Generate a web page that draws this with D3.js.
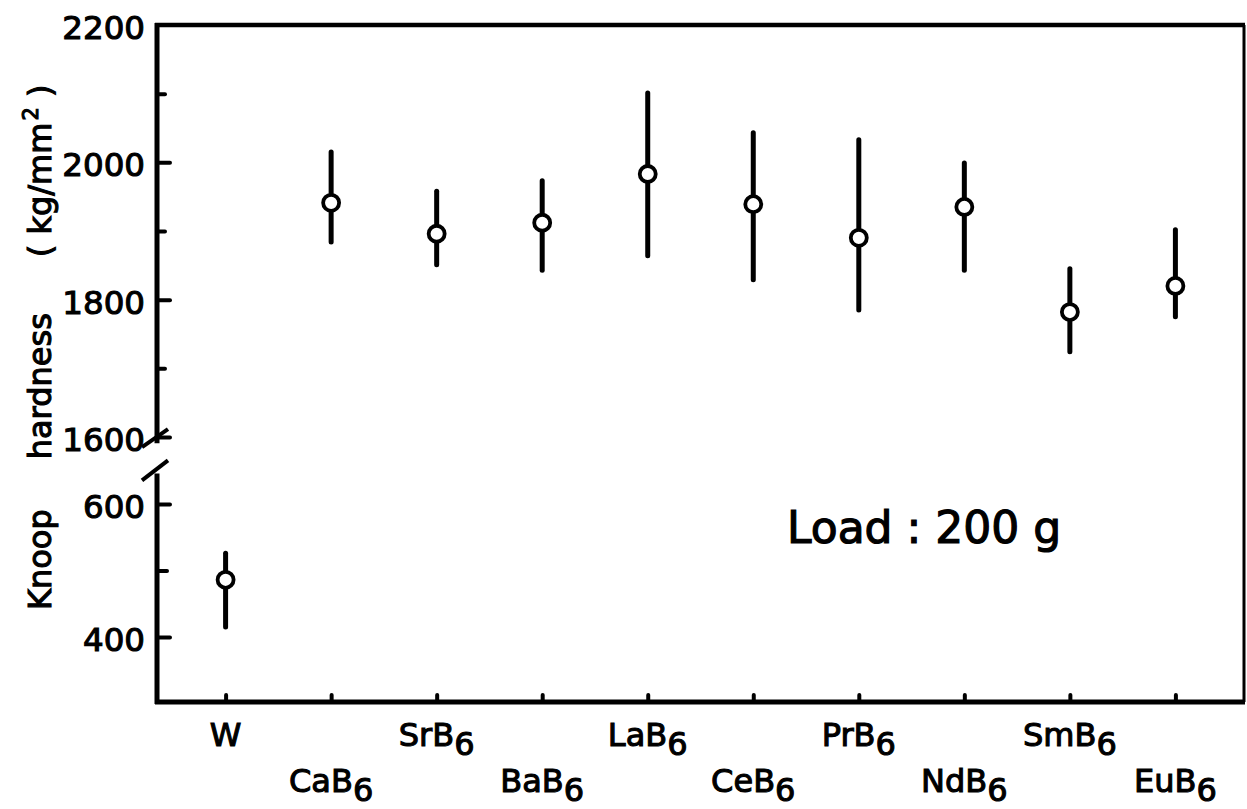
<!DOCTYPE html>
<html>
<head>
<meta charset="utf-8">
<script src="https://cdn.jsdelivr.net/npm/d3@7"></script>
<style>
  html, body { margin: 0; padding: 0; background: #fff; }
  svg { display: block; }
  text { font-family: "DejaVu Sans", sans-serif; fill: #000; }
</style>
</head>
<body>
<svg id="chart" width="1247" height="809"></svg>
<script>
// ---- data ----
const categories = ["W", "CaB6", "SrB6", "BaB6", "LaB6", "CeB6", "PrB6", "NdB6", "SmB6", "EuB6"];
const hardness   = [486, 1941, 1896, 1912, 1983, 1939, 1890, 1935, 1782, 1820];
const errHigh    = [526, 2015, 1958, 1973, 2101, 2043, 2033, 1999, 1845, 1902];
const errLow     = [415, 1884, 1851, 1843, 1864, 1829, 1785, 1843, 1724, 1775];
const upperMajorTicks = [1600, 1800, 2000, 2200];
const upperMinorTicks = [1700, 1900, 2100];
const lowerMajorTicks = [400, 600];
const lowerMinorTicks = [500];
const titleParts = ["Knoop", "hardness", "( kg/mm", "2", " )"];
const loadLabel = "Load : 200 g";

// ---- layout ----
const svg = d3.select("#chart");
const pL = 157, pR = 1244, pT = 25, pB = 702;
const textStroke = 1.1;

const x = d3.scalePoint().domain(categories).range([pL, pR]).padding(0.65);
const yUpper = d3.scaleLinear().domain([1600, 2200]).range([437, pT]);
const yLower = d3.scaleLinear().domain([400, 600]).range([637, 504]);
const isLower = v => v < 1000;
const yOf = v => isLower(v) ? yLower(v) : yUpper(v);

// ---- frame ----
const frame = svg.append("g").attr("stroke", "#000").attr("fill", "none");
frame.append("line").attr("x1", pL - 2).attr("x2", pR + 1).attr("y1", pT).attr("y2", pT).attr("stroke-width", 4.5);
frame.append("line").attr("x1", pR).attr("x2", pR).attr("y1", pT).attr("y2", pB).attr("stroke-width", 3);
frame.append("line").attr("x1", pL - 2).attr("x2", pR + 1).attr("y1", pB).attr("y2", pB).attr("stroke-width", 5);
frame.append("line").attr("x1", pL).attr("x2", pL).attr("y1", pT - 2).attr("y2", yUpper(1591)).attr("stroke-width", 5);
frame.append("line").attr("x1", pL).attr("x2", pL).attr("y1", yLower(646)).attr("y2", pB + 2).attr("stroke-width", 5);
const brk = [[yUpper(1591) + 4, yUpper(1591) - 14], [yLower(646) + 7, yLower(646) - 13]];
brk.forEach(([y1, y2]) => {
  frame.append("line").attr("x1", pL - 15).attr("x2", pL + 11).attr("y1", y1).attr("y2", y2).attr("stroke-width", 4);
});

// ---- y axes ----
function styleAxis(g) {
  g.select(".domain").remove();
  g.selectAll(".tick line").attr("stroke", "#000").attr("stroke-width", 4).attr("stroke-linecap", "round");
  g.selectAll(".tick text").attr("font-size", 32.5).attr("font-family", "DejaVu Sans")
    .attr("stroke", "#000").attr("stroke-width", textStroke).attr("dy", "0.42em");
}
const axU = svg.append("g").attr("transform", `translate(${pL},0)`)
  .call(d3.axisLeft(yUpper).tickValues(upperMajorTicks).tickSize(-13).tickPadding(12).tickFormat(d3.format("d")))
  .call(styleAxis);
axU.selectAll(".tick").filter(d => d === 2200).select("line").remove();
svg.append("g").attr("transform", `translate(${pL},0)`)
  .call(d3.axisLeft(yUpper).tickValues(upperMinorTicks).tickSize(-8).tickFormat(""))
  .call(styleAxis);
svg.append("g").attr("transform", `translate(${pL},0)`)
  .call(d3.axisLeft(yLower).tickValues(lowerMajorTicks).tickSize(-13).tickPadding(12).tickFormat(d3.format("d")))
  .call(styleAxis);
svg.append("g").attr("transform", `translate(${pL},0)`)
  .call(d3.axisLeft(yLower).tickValues(lowerMinorTicks).tickSize(-10).tickFormat(""))
  .call(styleAxis);

// ---- x axis ----
const axX = svg.append("g").attr("transform", `translate(0,${pB})`)
  .call(d3.axisBottom(x).tickSize(-7).tickFormat(""));
axX.select(".domain").remove();
axX.selectAll(".tick line").attr("stroke", "#000").attr("stroke-width", 4).attr("stroke-linecap", "round");

const labels = svg.append("g");
categories.forEach((c, i) => {
  const base = c.replace(/6$/, "");
  const sub = c.endsWith("6") ? "6" : "";
  const row = i % 2 === 0 ? 746 : 792;
  const t = labels.append("text")
    .attr("x", x(c)).attr("y", row)
    .attr("text-anchor", "middle")
    .attr("font-size", 32)
    .attr("stroke", "#000").attr("stroke-width", textStroke);
  t.append("tspan").text(base);
  if (sub) t.append("tspan").attr("dy", 9).attr("font-size", 32).text(sub);
});

// ---- error bars + points ----
const marks = svg.append("g");
categories.forEach((c, i) => {
  marks.append("line")
    .attr("x1", x(c)).attr("x2", x(c))
    .attr("y1", yOf(errHigh[i])).attr("y2", yOf(errLow[i]))
    .attr("stroke", "#000").attr("stroke-width", 5).attr("stroke-linecap", "round");
});
marks.selectAll("circle").data(categories).join("circle")
  .attr("cx", d => x(d))
  .attr("cy", (d, i) => yOf(hardness[i]))
  .attr("r", 8)
  .attr("fill", "#fff").attr("stroke", "#000").attr("stroke-width", 3.8);

// ---- y axis title ----
const title = svg.append("text")
  .attr("transform", "translate(51,610) rotate(-90)")
  .attr("font-size", 32)
  .attr("stroke", "#000").attr("stroke-width", textStroke);
title.append("tspan").text(titleParts[0]);
title.append("tspan").attr("dx", 50).text(titleParts[1]);
title.append("tspan").attr("dx", 56).text(titleParts[2]);
title.append("tspan").attr("dy", -13).attr("dx", 2).attr("font-size", 21).text(titleParts[3]);
title.append("tspan").attr("dy", 13).attr("xml:space", "preserve").text(titleParts[4]);

// ---- annotation ----
svg.append("text")
  .attr("x", 787).attr("y", 543)
  .attr("font-size", 44)
  .attr("stroke", "#000").attr("stroke-width", 1.2)
  .text(loadLabel);
</script>
</body>
</html>
